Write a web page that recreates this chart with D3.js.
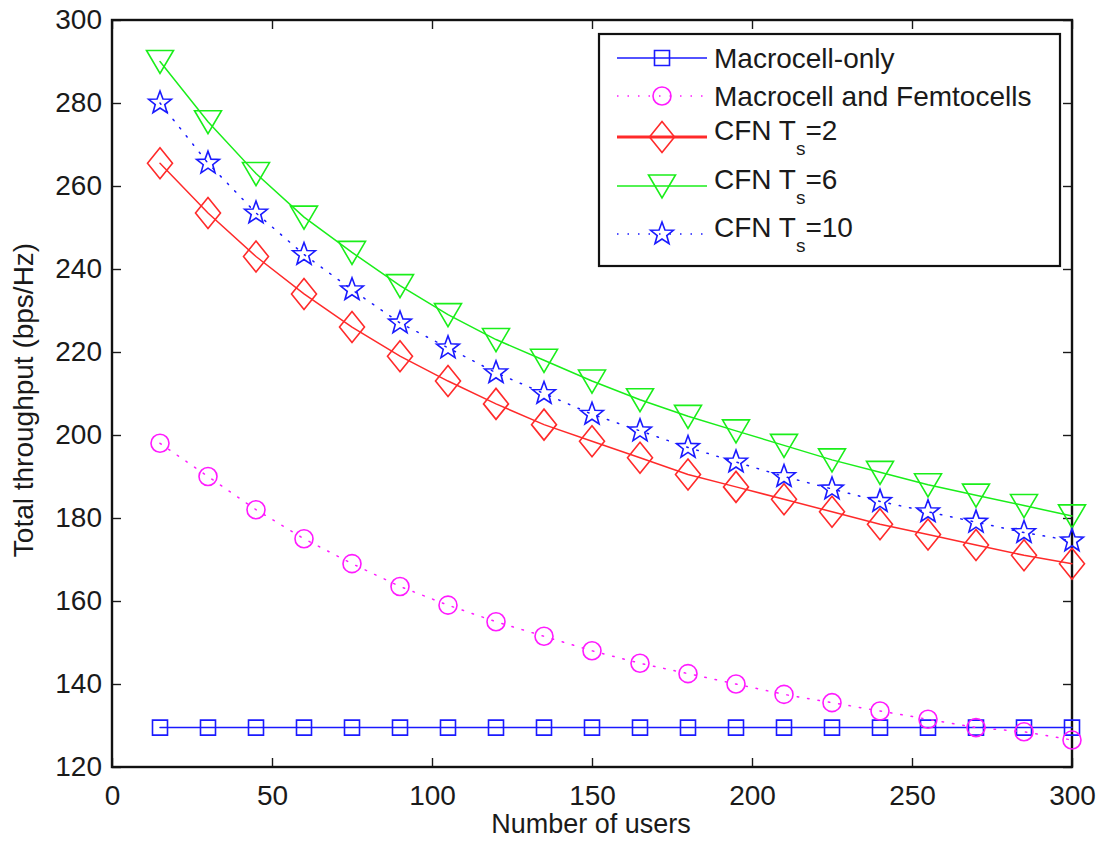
<!DOCTYPE html>
<html>
<head>
<meta charset="utf-8">
<script src="https://cdn.jsdelivr.net/npm/d3@7"></script>
<style>
  body { margin: 0; background: #fff; }
  text { font-family: "Liberation Sans", Arial, sans-serif; fill: #1a1a1a; }
</style>
</head>
<body>
<svg id="chart" width="1097" height="842"></svg>
<script>
// number of users
var users = [15, 30, 45, 60, 75, 90, 105, 120, 135, 150, 165, 180, 195, 210, 225, 240, 255, 270, 285, 300];

var macroOnly = [129.5, 129.5, 129.5, 129.5, 129.5, 129.5, 129.5, 129.5, 129.5, 129.5,
                 129.5, 129.5, 129.5, 129.5, 129.5, 129.5, 129.5, 129.5, 129.5, 129.5];
var macroFemto = [198, 190, 182, 175, 169, 163.5, 159, 155, 151.5, 148,
                  145, 142.5, 140, 137.5, 135.5, 133.5, 131.5, 129.5, 128.5, 126.5];
var cfnTs2 = [265.5, 253.5, 243, 234, 226, 219, 213, 207.5, 202.5, 198.5,
              194.5, 190.5, 187.5, 184.5, 181.5, 178.5, 176, 173.5, 171, 169];
var cfnTs6 = [290, 275.5, 263, 252.5, 244, 236, 229, 223, 218, 213,
              208.5, 204.5, 201, 197.5, 194, 191, 188, 185.5, 183, 180.5];
var cfnTs10 = [280, 265.5, 253.5, 243.5, 235, 227, 221, 215, 210, 205,
               201, 197, 193.5, 190, 187, 184, 181.5, 179, 176.5, 174.5];

var xTicks = [0, 50, 100, 150, 200, 250, 300];
var yTicks = [120, 140, 160, 180, 200, 220, 240, 260, 280, 300];

var series = [
  {name: "Macrocell-only", sub: null, values: macroOnly, color: "#1a1aff", dash: null, marker: "square"},
  {name: "Macrocell and Femtocells", sub: null, values: macroFemto, color: "#ff1aff", dash: "1.5,9", marker: "circle"},
  {name: "CFN T", sub: ["s", "=2"], values: cfnTs2, color: "#ff2a2a", dash: null, marker: "diamond"},
  {name: "CFN T", sub: ["s", "=6"], values: cfnTs6, color: "#1aee1a", dash: null, marker: "triangle"},
  {name: "CFN T", sub: ["s", "=10"], values: cfnTs10, color: "#1a1aff", dash: "1.5,9", marker: "star"}
];

var margin = {top: 20, left: 112, right: 25, bottom: 75};
var svg = d3.select("#chart");

var x = d3.scaleLinear().domain([0, 300]).range([margin.left, 1072]);
var y = d3.scaleLinear().domain([120, 300]).range([767, margin.top]);

// marker outlines, centred on 0,0
function starPath(ro, ri) {
  var p = d3.path();
  for (var k = 0; k < 10; k++) {
    var r = k % 2 ? ri : ro;
    var a = -Math.PI / 2 + k * Math.PI / 5;
    if (k == 0) p.moveTo(r * Math.cos(a), r * Math.sin(a));
    else p.lineTo(r * Math.cos(a), r * Math.sin(a));
  }
  p.closePath();
  return p.toString();
}
var markerPath = {
  square: "M-7.5,-7.5H7.5V7.5H-7.5Z",
  circle: d3.arc()({innerRadius: 0, outerRadius: 9, startAngle: 0, endAngle: 2 * Math.PI}),
  diamond: "M0,-15.5L12.5,0L0,15.5L-12.5,0Z",
  triangle: "M-13.5,-11L13.5,-11L0,12Z",
  star: starPath(12, 5)
};

function drawMarker(g, m, cx, cy, color) {
  g.append("path")
    .attr("d", markerPath[m])
    .attr("transform", "translate(" + cx + "," + cy + ")")
    .attr("fill", "none")
    .attr("stroke", color)
    .attr("stroke-width", 1.6)
    .attr("stroke-linejoin", "miter");
}

// axes (ticks inside, box on all sides)
var tickLen = 9;
svg.append("g")
  .attr("transform", "translate(0,767)")
  .call(d3.axisBottom(x).tickValues(xTicks).tickSizeInner(-tickLen).tickSizeOuter(0).tickPadding(18))
  .call(g => g.select(".domain").remove());
svg.append("g")
  .attr("transform", "translate(" + margin.left + ",0)")
  .call(d3.axisLeft(y).tickValues(yTicks).tickSizeInner(-tickLen).tickSizeOuter(0).tickPadding(10))
  .call(g => g.select(".domain").remove());
svg.append("g")
  .attr("transform", "translate(0," + margin.top + ")")
  .call(d3.axisTop(x).tickValues(xTicks).tickSizeInner(-tickLen).tickSizeOuter(0).tickFormat(""))
  .call(g => g.select(".domain").remove());
svg.append("g")
  .attr("transform", "translate(1072,0)")
  .call(d3.axisRight(y).tickValues(yTicks).tickSizeInner(-tickLen).tickSizeOuter(0).tickFormat(""))
  .call(g => g.select(".domain").remove());

svg.selectAll(".tick line").attr("stroke", "#1a1a1a").attr("stroke-width", 1.4);
svg.selectAll(".tick text").style("font-size", "28px").style("font-family", null).attr("fill", "#1a1a1a");

svg.append("rect")
  .attr("x", x(0)).attr("y", y(300))
  .attr("width", x(300) - x(0)).attr("height", y(120) - y(300))
  .attr("fill", "none").attr("stroke", "#111").attr("stroke-width", 2.4);

// lines and markers
var line = d3.line()
  .x((d, i) => x(users[i]))
  .y(d => y(d));

series.forEach(function(s) {
  var g = svg.append("g");
  g.append("path")
    .datum(s.values)
    .attr("d", line)
    .attr("fill", "none")
    .attr("stroke", s.color)
    .attr("stroke-width", 1.5)
    .attr("stroke-linecap", "round")
    .attr("stroke-dasharray", s.dash);
  s.values.forEach(function(v, i) {
    drawMarker(g, s.marker, x(users[i]), y(v), s.color);
  });
});

// axis labels
svg.append("text")
  .attr("x", 591).attr("y", 833)
  .attr("text-anchor", "middle")
  .style("font-size", "27px")
  .text("Number of users");
svg.append("text")
  .attr("transform", "translate(33,400) rotate(-90)")
  .attr("text-anchor", "middle")
  .style("font-size", "28px")
  .text("Total throughput (bps/Hz)");

// legend
var legend = svg.append("g");
legend.append("rect")
  .attr("x", 599).attr("y", 34).attr("width", 461).attr("height", 232)
  .attr("fill", "#fff").attr("stroke", "#111").attr("stroke-width", 2.2);

var rowY = [58, 96, 137, 186, 234];
series.forEach(function(s, i) {
  var ry = rowY[i];
  legend.append("line")
    .attr("x1", 617).attr("x2", 707).attr("y1", ry).attr("y2", ry)
    .attr("stroke", s.color)
    .attr("stroke-width", s.marker == "diamond" ? 3 : 1.5)
    .attr("stroke-dasharray", s.dash);
  drawMarker(legend, s.marker, 662, ry, s.color);
  var t = legend.append("text")
    .attr("x", 714).attr("y", s.sub ? ry + 3 : ry + 10)
    .style("font-size", "28px")
    .text(s.name);
  if (s.sub) {
    t.append("tspan").attr("dy", 15).style("font-size", "19px").text(s.sub[0]);
    t.append("tspan").attr("dy", -15).text(s.sub[1]);
  }
});
</script>
</body>
</html>
